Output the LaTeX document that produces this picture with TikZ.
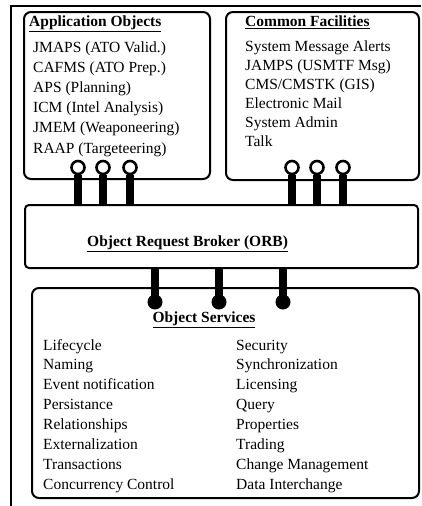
\documentclass[tikz,border=0pt]{standalone}
\usepackage{fontspec}
\setmainfont{Liberation Serif}
\begin{document}
\begin{tikzpicture}[x=1pt,y=-1pt,
  box/.style={draw,line width=2pt,rounded corners=7pt},
  txt/.style={inner sep=0pt,anchor=base west,font=\fontsize{15.5}{18}\selectfont},
  ttl/.style={inner sep=0pt,anchor=base west,font=\fontsize{15.5}{18}\selectfont\bfseries},
  stem/.style={line width=8pt},
  opencirc/.style={draw,line width=2.6pt,circle,minimum size=13pt,inner sep=0pt,fill=white},
  ball/.style={fill,circle,minimum size=15pt,inner sep=0pt}]
\useasboundingbox (0,0) rectangle (421,506);
% outer frame
\coordinate (ftl) at (11,6);
\coordinate (ftr) at (421,6);
\coordinate (fbl) at (11,506);
\draw[line width=2pt] (ftr) -- (ftl) -- (fbl);
% boxes
\draw[box] (24,12) rectangle (210,179);
\draw[box] (226,12) rectangle (419,180);
\draw[box,rounded corners=4pt] (25,205) rectangle (418,268);
\draw[box] (32,288) rectangle (419,498);
% upper connectors (open circles)
\foreach \x [count=\i] in {78,103,130,292,317,343} {
  \coordinate (ub\i) at (\x,205);
  \node[opencirc] (uc\i) at (\x,167.5) {};
  \draw[stem] (uc\i.south) -- (ub\i);
}
% lower connectors (balls)
\foreach \x [count=\i] in {155,219,283} {
  \coordinate (lt\i) at (\x,268);
  \node[ball] (lc\i) at (\x,302) {};
  \draw[stem] (lt\i) -- (lc\i.center);
}
% App Objects text
\node[ttl] (at) at (29,27) {\underline{Application Objects}};
\foreach \t [count=\i from 0] in {JMAPS (ATO Valid.),CAFMS (ATO Prep.),APS (Planning),ICM (Intel Analysis),JMEM (Weaponeering),RAAP (Targeteering)}
  \node[txt] (a\i) at (33,52.5+20.1*\i) {\t};
% Common Facilities text
\node[ttl] (ct) at (245,27) {\underline{Common Facilities}};
\foreach \t [count=\i from 0] in {System Message Alerts,JAMPS (USMTF Msg),CMS/CMSTK (GIS),Electronic Mail,System Admin,Talk}
  \node[txt] (c\i) at (245,51+19.1*\i) {\t};
% ORB text
\node[ttl] (orb) at (87,246) {\underline{Object Request Broker (ORB)}};
% Object services
\node[ttl,anchor=base] (ost) at (204,322) {\underline{Object Services}};
\foreach \t [count=\i from 0] in {Lifecycle,Naming,Event notification,Persistance,Relationships,Externalization,Transactions,Concurrency Control}
  \node[txt] (l\i) at (43,350+19.86*\i) {\t};
\foreach \t [count=\i from 0] in {Security,Synchronization,Licensing,Query,Properties,Trading,Change Management,Data Interchange}
  \node[txt] (r\i) at (236,350+19.86*\i) {\t};
\end{tikzpicture}
\end{document}
